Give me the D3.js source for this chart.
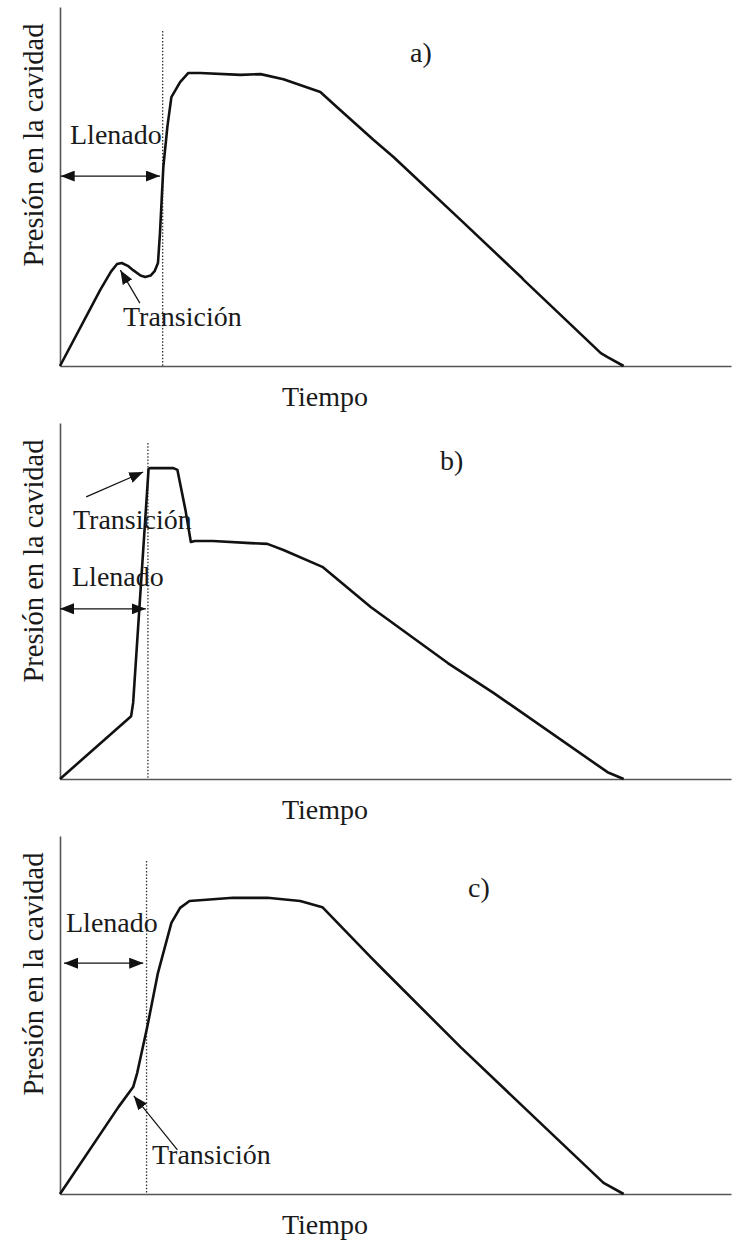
<!DOCTYPE html>
<html>
<head>
<meta charset="utf-8">
<script src="https://cdn.jsdelivr.net/npm/d3@7/dist/d3.min.js"></script>
<style>
  html, body { margin: 0; padding: 0; background: #fff; }
  svg text { font-family: "Liberation Serif", "Times New Roman", serif; fill: #1a1a1a; }
</style>
</head>
<body>
<svg id="chart" width="733" height="1241"></svg>
<script>
// Cavity pressure curves: time (0-100) vs pressure (0-100), three switch-over cases
const panelIds = ["a)", "b)", "c)"];
const axisTitleX = "Tiempo";
const axisTitleY = "Presión en la cavidad";
const fillLabel = "Llenado";
const switchLabel = "Transición";

// a) switch-over too late: pressure dip before the rise
const timeA     = [0, 6.0, 7.6, 8.5, 9.2, 10.1, 10.9, 12.0, 12.7, 13.5, 14.1, 14.6, 14.9, 15.4, 16.0, 16.6, 17.9, 19.1, 20.9, 26.9, 29.9, 33.3, 38.8, 41.3, 46.7, 49.7, 59.7, 68.7, 69.1, 80.6, 81.6, 84.0];
const pressureA = [0, 21.2, 26.3, 28.4, 28.7, 27.9, 26.7, 25.2, 24.8, 25.2, 26.4, 28.7, 37.0, 55.4, 66.6, 74.9, 79.1, 81.6, 81.6, 81.1, 81.3, 79.9, 76.3, 72.1, 63.0, 58.2, 40.7, 24.8, 24.0, 3.6, 2.5, 0];

// b) switch-over too early: pressure peak then drop
const timeB     = [0, 10.6, 10.9, 13.2, 13.4, 16.9, 17.5, 18.7, 19.5, 20.1, 22.8, 28.4, 30.9, 33.3, 39.1, 46.3, 57.8, 64.6, 81.6, 84.0];
const pressureB = [0, 17.5, 21.2, 86.4, 86.6, 86.6, 86.1, 74.9, 66.0, 66.3, 66.3, 65.7, 65.5, 63.8, 59.1, 47.9, 32.3, 24.0, 1.9, 0];

// c) correct switch-over
const timeC     = [0, 8.7, 10.9, 11.5, 13.0, 14.6, 16.6, 17.9, 19.3, 25.8, 30.9, 35.8, 39.1, 46.3, 48.2, 59.7, 69.1, 81.0, 84.0];
const pressureC = [0, 24.2, 29.8, 33.7, 46.5, 61.6, 75.5, 79.7, 81.6, 82.5, 82.5, 81.6, 79.9, 66.0, 62.4, 40.9, 24.2, 3.1, 0];

// switch-over instant (dotted marker), per panel
const switchTime = [15.3, 13.1, 12.9];
// filling arrow: [pressure level, start time, end time]
const fillArrow = [[52.9, 0.1, 14.9], [47.4, 0.0, 12.8], [64.3, 0.6, 12.4]];
// transition pointer: [tail time, tail pressure, tip time, tip pressure]
const switchArrow = [[11.9, 17.5, 9.0, 26.7], [3.9, 78.6, 12.4, 85.5], [17.5, 12.3, 11.0, 27.3]];

const series = [
  { id: panelIds[0], t: timeA, p: pressureA },
  { id: panelIds[1], t: timeB, p: pressureB },
  { id: panelIds[2], t: timeC, p: pressureC }
];

// page layout of each panel
const layout = [
  { top: 7,   bottom: 366,  dotTop: 31,  fillText: [70, 144],  switchText: [123, 326],  idText: [410, 62] },
  { top: 423, bottom: 779,  dotTop: 443, fillText: [72, 586],  switchText: [73, 529],   idText: [440, 470] },
  { top: 836, bottom: 1194, dotTop: 861, fillText: [66, 932],  switchText: [152, 1164], idText: [468, 897] }
];
const left = 60, right = 731;

const svg = d3.select("#chart");

const defs = svg.append("defs");
defs.append("marker")
  .attr("id", "head")
  .attr("markerUnits", "userSpaceOnUse")
  .attr("viewBox", "0 0 14 11")
  .attr("markerWidth", 14).attr("markerHeight", 11)
  .attr("refX", 14).attr("refY", 5.5)
  .attr("orient", "auto-start-reverse")
  .append("path")
  .attr("d", "M0,0 L14,5.5 L0,11 Z")
  .attr("fill", "#111");

series.forEach((s, i) => {
  const L = layout[i];
  const x = d3.scaleLinear().domain([0, 100]).range([left, right]);
  const y = d3.scaleLinear().domain([0, 100]).range([L.bottom, L.bottom - 359]);
  const yAxisScale = d3.scaleLinear().domain([0, 1]).range([L.bottom, L.top]);

  const g = svg.append("g");

  // axes without ticks
  const xa = g.append("g").attr("transform", `translate(0,${L.bottom})`)
    .call(d3.axisBottom(x).tickValues([]).tickSizeOuter(0));
  const ya = g.append("g").attr("transform", `translate(${left},0)`)
    .call(d3.axisLeft(yAxisScale).tickValues([]).tickSizeOuter(0));
  [xa, ya].forEach(a => a.select(".domain").attr("stroke", "#555").attr("stroke-width", 1.6));

  // switch-over dotted line
  g.append("line")
    .attr("x1", x(switchTime[i])).attr("x2", x(switchTime[i]))
    .attr("y1", L.dotTop).attr("y2", L.bottom)
    .attr("stroke", "#333").attr("stroke-width", 1.3)
    .attr("stroke-dasharray", "1.5,1.8");

  // pressure curve
  const pts = s.t.map((t, k) => [t, s.p[k]]);
  g.append("path")
    .datum(pts)
    .attr("fill", "none")
    .attr("stroke", "#111")
    .attr("stroke-width", 2.6)
    .attr("stroke-linejoin", "round")
    .attr("d", d3.line().x(d => x(d[0])).y(d => y(d[1])).curve(d3.curveLinear));

  // filling double arrow
  const fa = fillArrow[i];
  g.append("line")
    .attr("x1", x(fa[1])).attr("x2", x(fa[2]))
    .attr("y1", y(fa[0])).attr("y2", y(fa[0]))
    .attr("stroke", "#111").attr("stroke-width", 1.3)
    .attr("marker-start", "url(#head)").attr("marker-end", "url(#head)");

  // transition pointer
  const sa = switchArrow[i];
  g.append("line")
    .attr("x1", x(sa[0])).attr("y1", y(sa[1]))
    .attr("x2", x(sa[2])).attr("y2", y(sa[3]))
    .attr("stroke", "#111").attr("stroke-width", 1.2)
    .attr("marker-end", "url(#head)");

  // texts
  g.append("text").attr("x", L.fillText[0]).attr("y", L.fillText[1])
    .attr("font-size", 28).text(fillLabel);
  g.append("text").attr("x", L.switchText[0]).attr("y", L.switchText[1])
    .attr("font-size", 28).text(switchLabel);
  g.append("text").attr("x", L.idText[0]).attr("y", L.idText[1])
    .attr("font-size", 28).text(s.id);

  g.append("text")
    .attr("x", 325).attr("y", L.bottom + 40)
    .attr("text-anchor", "middle").attr("font-size", 28)
    .text(axisTitleX);

  g.append("text")
    .attr("transform", `translate(43,${L.top + 138}) rotate(-90)`)
    .attr("text-anchor", "middle").attr("font-size", 28.5)
    .text(axisTitleY);
});
</script>
</body>
</html>
